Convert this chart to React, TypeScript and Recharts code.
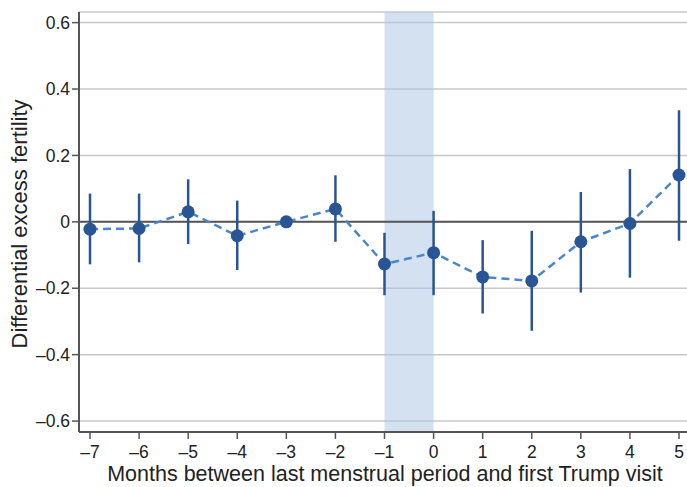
import React from 'react';
import {
  ComposedChart, Line, ErrorBar, XAxis, YAxis, CartesianGrid,
  ReferenceArea, ReferenceLine, Label
} from 'recharts';

// months relative to first Trump visit
const months = [-7, -6, -5, -4, -3, -2, -1, 0, 1, 2, 3, 4, 5];
const estimates = [-0.022, -0.02, 0.03, -0.042, 0, 0.039, -0.127, -0.093, -0.166, -0.178, -0.06, -0.005, 0.141];
const lower = [-0.128, -0.122, -0.067, -0.145, 0, -0.06, -0.221, -0.221, -0.276, -0.328, -0.213, -0.168, -0.057];
const upper = [0.085, 0.085, 0.128, 0.064, 0, 0.14, -0.033, 0.033, -0.055, -0.027, 0.09, 0.159, 0.336];
const yTicks = [-0.6, -0.4, -0.2, 0, 0.2, 0.4, 0.6];

const data = months.map((m, i) => ({
  month: m,
  est: estimates[i],
  err: [estimates[i] - lower[i], upper[i] - estimates[i]],
}));

const fmtY = (v: number) => {
  if (v === 0) return '0';
  const s = Math.abs(v).toFixed(1);
  return v < 0 ? '\u2013' + s : s;
};
const fmtX = (v: number) => (v < 0 ? '\u2013' + Math.abs(v) : String(v));

const font = 'Liberation Sans, Arial, Helvetica, sans-serif';

const App: React.FC = () => {
  return (
    <div style={{ position: 'fixed', left: 0, top: 0, width: 687, height: 487, overflow: 'hidden', background: '#fff' }}>
      <ComposedChart
        width={700}
        height={487}
        data={data}
        margin={{ top: 12, right: 10, bottom: 0, left: 0 }}
        style={{ fontFamily: font }}
      >
        <ReferenceArea x1={-1} x2={0} fill="#a7c3e3" fillOpacity={0.5} stroke="none" />
        <CartesianGrid horizontal vertical={false} stroke="#c8c8c8" strokeWidth={1.5} />
        <ReferenceLine y={0} stroke="#555" strokeWidth={2} />
        <XAxis
          dataKey="month"
          type="number"
          domain={[-7.224, 5.224]}
          ticks={months}
          interval={0}
          tickFormatter={fmtX}
          height={55}
          axisLine={{ stroke: '#555', strokeWidth: 2 }}
          tickLine={{ stroke: '#555', strokeWidth: 1.5 }}
          tickSize={7}
          tickMargin={7}
          tick={{ fill: '#222', fontSize: 17.5 }}
          allowDataOverflow
        >
          <Label
            content={() => (
              <text x={385} y={481} textAnchor="middle" fill="#222" fontSize={21.5} fontFamily={font}>
                Months between last menstrual period and first Trump visit
              </text>
            )}
          />
        </XAxis>
        <YAxis
          type="number"
          domain={[-0.633, 0.632]}
          ticks={yTicks}
          interval={0}
          tickFormatter={fmtY}
          width={79}
          axisLine={{ stroke: '#555', strokeWidth: 2 }}
          tickLine={{ stroke: '#555', strokeWidth: 1.5 }}
          tickSize={7}
          tick={{ fill: '#222', fontSize: 17.5 }}
          allowDataOverflow
        >
          <Label
            content={() => (
              <text x={27} y={224} transform="rotate(-90 27 224)" textAnchor="middle" fill="#222" fontSize={22} fontFamily={font}>
                Differential excess fertility
              </text>
            )}
          />
        </YAxis>
        <Line
          type="linear"
          dataKey="est"
          stroke="#4a86c8"
          strokeWidth={2.5}
          strokeDasharray="8 5"
          dot={{ r: 6.5, fill: '#2a5594', stroke: '#2a5594', strokeWidth: 0 }}
          activeDot={false}
          isAnimationActive={false}
        >
          <ErrorBar dataKey="err" direction="y" width={0} stroke="#2a5594" strokeWidth={2.5} />
        </Line>
      </ComposedChart>
    </div>
  );
};

export default App;
